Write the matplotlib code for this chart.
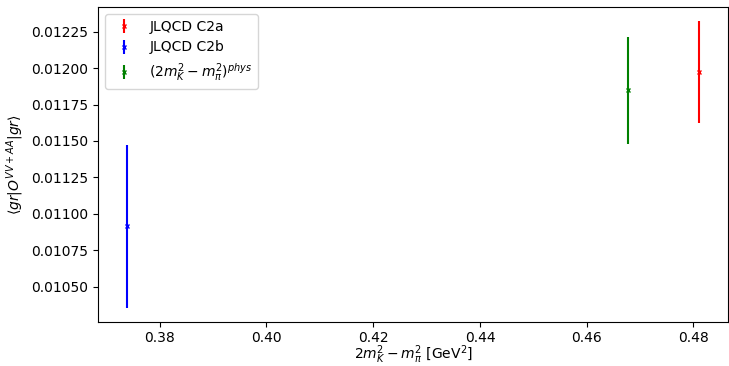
import matplotlib
matplotlib.use('Agg')
import matplotlib.pyplot as plt

plt.rcParams['font.size'] = 10

# data
labels = ['JLQCD C2a', 'JLQCD C2b', r'$(2m_K^2-m_\pi^2)^{phys}$']
colors = ['red', 'blue', 'green']
x_vals = [0.4811, 0.3738, 0.4678]
y_vals = [0.011974, 0.010913, 0.011847]
y_errs = [0.000348, 0.000558, 0.000369]

fig = plt.figure(figsize=(7.29, 3.66), dpi=100)
ax = fig.add_axes([98/729, 1-322/366, 630/729, 315/366])

for x, y, e, c, lab in zip(x_vals, y_vals, y_errs, colors, labels):
    ax.errorbar(x, y, yerr=e, fmt='x', color=c, markersize=3, label=lab)

ax.tick_params(axis='x', pad=3)
ax.set_xlabel(r'$2m_K^2-m_\pi^2$ [GeV$^2$]', labelpad=-1)
ax.set_ylabel(r'$\langle gr|O^{VV+AA}|gr\rangle$')
ax.legend(loc='upper left')

fig.savefig('out.png', dpi=100)
